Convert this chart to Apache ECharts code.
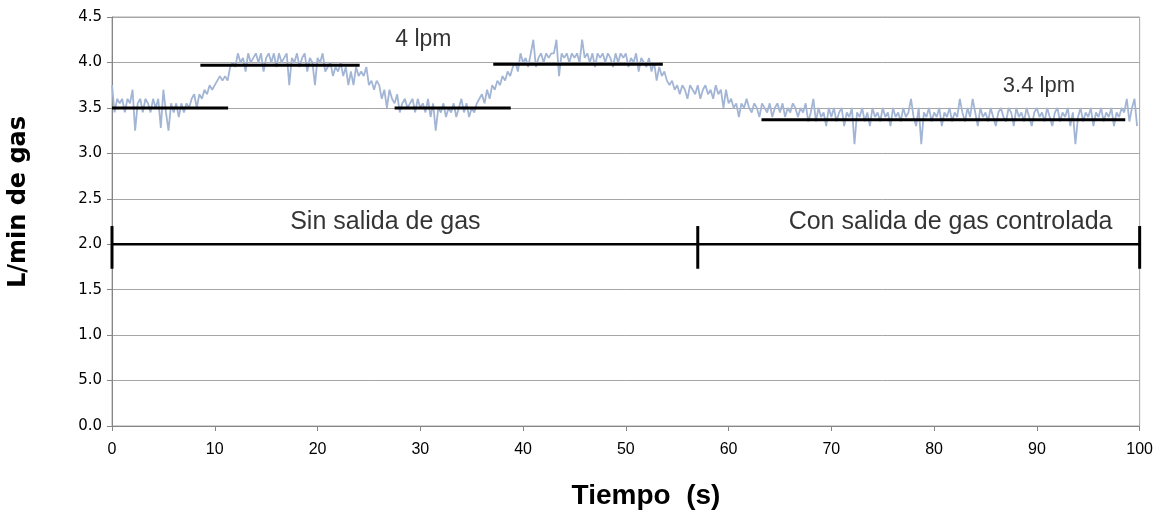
<!DOCTYPE html>
<html>
<head>
<meta charset="utf-8">
<script src="https://cdn.jsdelivr.net/npm/echarts@6/dist/echarts.min.js"></script>
<style>
  html, body { margin: 0; padding: 0; background: #fff; }
  #chart { width: 1156px; height: 512px; }
</style>
</head>
<body>
<div id="chart"></div>
<script>
// sample spacing of the gas flow record (s)
var sampleStep = 0.25;

// gas flow readings, L/min, one every 0.25 s starting at t = 0
var gasFlow = [
    3.75, 3.45, 3.6, 3.55, 3.6, 3.45, 3.6, 3.55, 3.7, 3.25, 3.55, 3.6, 3.45, 3.6, 3.55, 3.45, 3.6, 3.5, 3.6, 3.28,
    3.7, 3.45, 3.25, 3.55, 3.45, 3.55, 3.4, 3.55, 3.45, 3.55, 3.5, 3.6, 3.65, 3.5, 3.65, 3.6, 3.7, 3.65, 3.75, 3.7,
    3.75, 3.8, 3.85, 3.8, 3.85, 3.8, 3.95, 4.0, 3.95, 4.1, 4.0, 4.05, 3.9, 4.1, 4.0, 4.05, 4.1, 4.0, 4.1, 3.9,
    4.05, 4.1, 4.0, 4.1, 3.95, 4.1, 4.0, 4.05, 4.1, 3.75, 4.05, 4.0, 4.1, 3.95, 4.05, 4.1, 3.9, 4.05, 4.0, 3.75,
    4.05, 4.0, 4.1, 3.9, 3.95, 4.0, 3.85, 3.95, 3.9, 4.0, 3.85, 3.95, 3.75, 3.9, 3.75, 3.95, 3.85, 3.9, 3.85, 3.95,
    3.75, 3.8, 3.7, 3.8, 3.75, 3.6, 3.7, 3.5, 3.7, 3.6, 3.55, 3.65, 3.45, 3.55, 3.6, 3.5, 3.55, 3.6, 3.45, 3.6,
    3.5, 3.55, 3.45, 3.6, 3.4, 3.55, 3.25, 3.5, 3.45, 3.55, 3.4, 3.5, 3.45, 3.55, 3.4, 3.5, 3.6, 3.45, 3.55, 3.4,
    3.5, 3.45, 3.55, 3.6, 3.65, 3.55, 3.7, 3.6, 3.75, 3.7, 3.8, 3.75, 3.85, 3.8, 3.9, 3.85, 3.95, 4.0, 3.9, 4.1,
    4.0, 4.05, 3.95, 4.1, 4.25, 3.95, 4.05, 4.1, 4.0, 4.1, 4.05, 4.1, 4.1, 4.25, 3.85, 4.1, 4.05, 4.1, 4.0, 4.1,
    4.05, 4.1, 4.0, 4.25, 4.05, 4.1, 4.0, 4.1, 3.95, 4.1, 4.05, 4.1, 4.0, 4.1, 4.05, 3.95, 4.1, 4.0, 4.1, 4.05,
    4.1, 3.95, 4.05, 4.0, 4.1, 3.9, 4.05, 4.0, 3.95, 4.05, 3.9, 4.0, 3.8, 3.95, 3.85, 3.9, 3.8, 3.75, 3.8, 3.7,
    3.75, 3.65, 3.75, 3.7, 3.6, 3.75, 3.7, 3.65, 3.75, 3.6, 3.7, 3.75, 3.65, 3.7, 3.6, 3.75, 3.65, 3.7, 3.5, 3.7,
    3.55, 3.6, 3.5, 3.55, 3.4, 3.55, 3.5, 3.6, 3.5, 3.45, 3.55, 3.5, 3.4, 3.55, 3.5, 3.45, 3.55, 3.4, 3.5, 3.55,
    3.45, 3.55, 3.4, 3.5, 3.45, 3.55, 3.5, 3.4, 3.5, 3.45, 3.55, 3.35, 3.45, 3.6, 3.35, 3.5, 3.4, 3.45, 3.3, 3.5,
    3.4, 3.5, 3.35, 3.45, 3.5, 3.3, 3.45, 3.4, 3.5, 3.1, 3.45, 3.4, 3.5, 3.35, 3.45, 3.3, 3.5, 3.4, 3.45, 3.35,
    3.5, 3.4, 3.45, 3.3, 3.5, 3.4, 3.45, 3.35, 3.5, 3.4, 3.45, 3.6, 3.4, 3.3, 3.5, 3.1, 3.45, 3.4, 3.5, 3.35,
    3.45, 3.4, 3.5, 3.3, 3.45, 3.4, 3.5, 3.35, 3.45, 3.4, 3.6, 3.45, 3.35, 3.5, 3.4, 3.6, 3.45, 3.3, 3.5, 3.4,
    3.45, 3.35, 3.5, 3.4, 3.3, 3.45, 3.5, 3.4, 3.35, 3.5, 3.45, 3.3, 3.5, 3.4, 3.45, 3.35, 3.5, 3.4, 3.3, 3.45,
    3.5, 3.4, 3.45, 3.35, 3.5, 3.4, 3.3, 3.45, 3.5, 3.35, 3.45, 3.4, 3.5, 3.3, 3.45, 3.1, 3.4, 3.5, 3.35, 3.45,
    3.4, 3.5, 3.3, 3.45, 3.4, 3.5, 3.35, 3.45, 3.4, 3.5, 3.3, 3.45, 3.4, 3.5, 3.45, 3.6, 3.35, 3.5, 3.6, 3.3
];

// mean level segments drawn over the record: [start s, end s, L/min]
var meanStarts = [0, 8.6, 27.5, 37.1, 63.2];
var meanEnds = [11.3, 24.1, 38.8, 53.6, 98.6];
var meanLevels = [3.5, 3.97, 3.5, 3.98, 3.37];

// phase bar at 2.0 L/min with end / split marks
var phaseLevel = 2.0;
var phaseMarks = [0, 57, 100];
var phaseMarkLow = 1.73;
var phaseMarkHigh = 2.2;

// text annotations: [label, t, L/min]
var noteLabels = ['4 lpm', '3.4 lpm', 'Sin salida de gas', 'Con salida de gas controlada'];
var noteX = [30.3, 90.2, 26.6, 81.6];
var noteY = [4.25, 3.74, 2.24, 2.24];
var noteSizes = [23, 22, 25, 25];

// y tick labels as printed on the original (0.5 reads "5.0")
var yTicks = [0, 0.5, 1.0, 1.5, 2.0, 2.5, 3.0, 3.5, 4.0, 4.5];
var yTickText = ['0.0', '5.0', '1.0', '1.5', '2.0', '2.5', '3.0', '3.5', '4.0', '4.5'];
var xTicks = [0, 10, 20, 30, 40, 50, 60, 70, 80, 90, 100];

var chart = echarts.init(document.getElementById('chart'));

var flowPoints = gasFlow.map(function (v, i) {
    return [i * sampleStep, v];
});

var series = [{
    type: 'line',
    data: flowPoints,
    showSymbol: false,
    symbol: 'none',
    animation: false,
    lineStyle: { color: '#a3b5d5', width: 1.8 },
    z: 2
}];

for (var i = 0; i < meanLevels.length; i++) {
    series.push({
        type: 'line',
        data: [[meanStarts[i], meanLevels[i]], [meanEnds[i], meanLevels[i]]],
        symbol: 'none',
        animation: false,
        lineStyle: { color: '#000', width: 3 },
        z: 4
    });
}

series.push({
    type: 'line',
    data: [[phaseMarks[0], phaseLevel], [phaseMarks[phaseMarks.length - 1], phaseLevel]],
    symbol: 'none',
    clip: false,
    animation: false,
    lineStyle: { color: '#000', width: 2.5 },
    z: 4
});
phaseMarks.forEach(function (m) {
    series.push({
        type: 'line',
        data: [[m, phaseMarkLow], [m, phaseMarkHigh]],
        symbol: 'none',
        clip: false,
        animation: false,
        lineStyle: { color: '#000', width: 3 },
        z: 4
    });
});

series.push({
    type: 'scatter',
    symbolSize: 0,
    animation: false,
    silent: true,
    data: noteLabels.map(function (n, i) {
        return {
            name: n,
            value: [noteX[i], noteY[i]],
            label: {
                show: true,
                position: 'inside',
                formatter: '{b}',
                color: '#000',
                fontSize: noteSizes[i],
                fontFamily: 'Liberation Sans, Arial, sans-serif'
            }
        };
    }),
    z: 5
});

var option = {
    backgroundColor: '#fff',
    animation: false,
    grid: {
        left: 112,
        right: 16,
        top: 17,
        bottom: 86,
        show: true,
        borderColor: '#a6a6a6',
        borderWidth: 1
    },
    xAxis: {
        type: 'value',
        min: 0,
        max: 100,
        interval: 10,
        axisLine: { show: true, lineStyle: { color: '#868686' } },
        axisTick: { show: true, length: 5, lineStyle: { color: '#868686' } },
        splitLine: { show: false },
        axisLabel: {
            margin: 16,
            color: '#000',
            fontSize: 16,
            fontFamily: 'Liberation Sans, Arial, sans-serif',
            formatter: function (v) {
                return xTicks.indexOf(v) >= 0 ? String(v) : '';
            }
        }
    },
    yAxis: {
        type: 'value',
        min: 0,
        max: 4.5,
        interval: 0.5,
        axisLine: { show: true, lineStyle: { color: '#868686' } },
        axisTick: { show: true, length: 5, lineStyle: { color: '#868686' } },
        splitLine: { show: true, lineStyle: { color: '#a6a6a6', width: 1 } },
        axisLabel: {
            margin: 10,
            color: '#000',
            fontSize: 15,
            fontFamily: 'DejaVu Sans, Verdana, sans-serif',
            formatter: function (v) {
                for (var k = 0; k < yTicks.length; k++) {
                    if (Math.abs(yTicks[k] - v) < 1e-6) return yTickText[k];
                }
                return '';
            }
        }
    },
    graphic: [{
        type: 'text',
        rotation: Math.PI / 2,
        style: {
            text: 'L/min de gas',
            fill: '#000',
            font: 'bold 24px "DejaVu Sans", Verdana, sans-serif',
            textAlign: 'center',
            textVerticalAlign: 'middle'
        },
        x: 19,
        y: 202
    }, {
        type: 'text',
        style: {
            text: 'Tiempo  (s)',
            fill: '#000',
            font: 'bold 28px "Liberation Sans", Arial, sans-serif',
            textAlign: 'center',
            textVerticalAlign: 'middle'
        },
        x: 646,
        y: 496
    }],
    series: series
};

chart.setOption(option);
</script>
</body>
</html>
